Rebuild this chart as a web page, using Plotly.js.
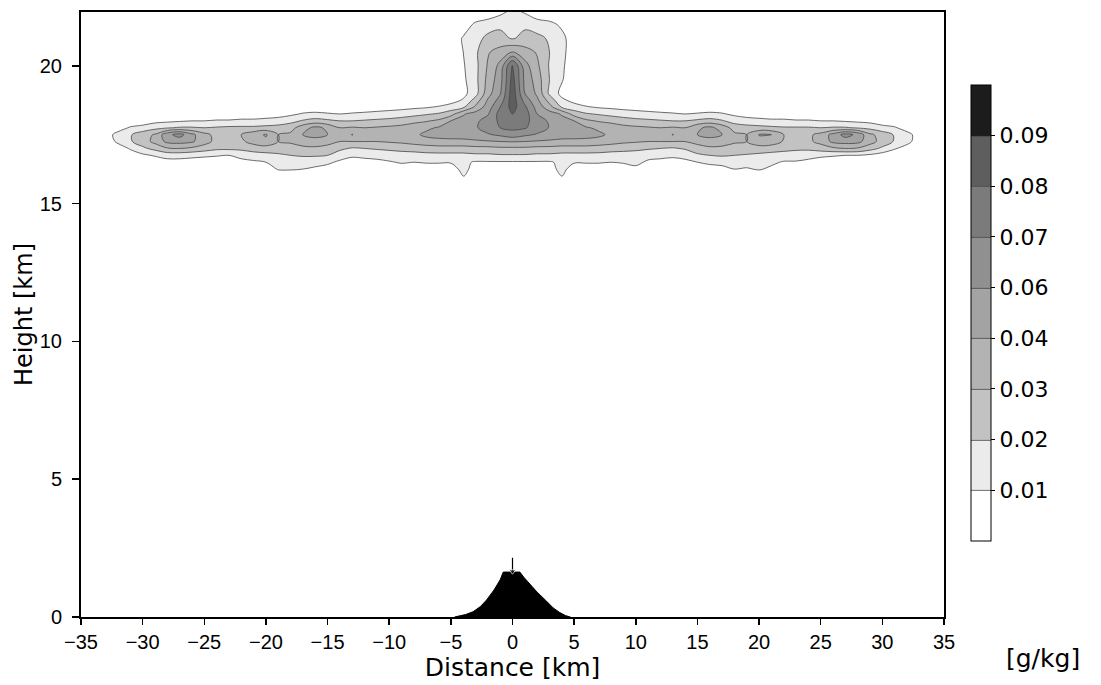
<!DOCTYPE html>
<html>
<head>
<meta charset="utf-8">
<script src="https://cdn.plot.ly/plotly-3.0.1.min.js"></script>
<style>html,body{margin:0;padding:0;background:#fff;}#chart{width:1101px;height:685px;}</style>
</head>
<body>
<div id="chart"></div>
<script>
// Horizontal distance of each model column [km]
const distanceKm = [-34,-33,-32,-31,-30,-29,-28,-27,-26,-25,-24,-23,-22,-21,-20,-19,-18,-17,-16,-15,-14,-13,-12,-11,-10,-9,-8,-7,-6,-5,-4,-3,-2,-1,0,1,2,3,4,5,6,7,8,9,10,11,12,13,14,15,16,17,18,19,20,21,22,23,24,25,26,27,28,29,30,31,32,33,34];
// Heights of the grid rows [km]
const heightKm = [15.75,16,16.25,16.5,16.75,17,17.25,17.5,17.75,18,18.25,18.5,18.75,19,19.5,20,20.5,21,21.5,22];
// Ash mixing ratio, one vertical profile per distance, in 0.001 g/kg
const ashProfiles = [
 [0,0,0,0,0,0,0,0,0,0,0,0,0,0,0,0,0,0,0,0],
 [0,0,0,0,0,0,4,6,2,0,0,0,0,0,0,0,0,0,0,0],
 [0,0,0,0,0,5,12,13,6,0,0,0,0,0,0,0,0,0,0,0],
 [0,0,0,0,5,11,19,19,11,4,0,0,0,0,0,0,0,0,0,0],
 [0,0,0,2,8,18,25,26,13,5,0,0,0,0,0,0,0,0,0,0],
 [0,0,0,4,11,23,33,31,17,7,0,0,0,0,0,0,0,0,0,0],
 [0,0,0,6,14,29,45,54,19,8,1,0,0,0,0,0,0,0,0,0],
 [0,0,0,6,14,30,47,64,21,9,2,0,0,0,0,0,0,0,0,0],
 [0,0,0,5,13,28,43,45,21,10,2,0,0,0,0,0,0,0,0,0],
 [0,0,0,4,12,25,34,33,20,10,3,0,0,0,0,0,0,0,0,0],
 [0,0,0,3,11,22,27,27,21,11,3,0,0,0,0,0,0,0,0,0],
 [0,0,0,3,10,22,27,28,22,11,3,0,0,0,0,0,0,0,0,0],
 [0,0,0,6,14,22,28,30,22,12,4,0,0,0,0,0,0,0,0,0],
 [0,0,2,8,16,24,34,36,22,12,4,0,0,0,0,0,0,0,0,0],
 [0,0,4,10,17,25,38,42,23,13,5,0,0,0,0,0,0,0,0,0],
 [0,2,11,14,18,26,30,30,24,14,6,0,0,0,0,0,0,0,0,0],
 [0,3,11,15,20,27,31,32,26,17,8,2,0,0,0,0,0,0,0,0],
 [0,2,10,15,21,28,34,41,36,21,11,3,0,0,0,0,0,0,0,0],
 [0,0,8,14,21,28,36,46,45,24,12,4,0,0,0,0,0,0,0,0],
 [0,0,6,12,20,27,33,40,38,22,11,3,0,0,0,0,0,0,0,0],
 [0,0,3,8,15,22,30,33,30,20,10,3,0,0,0,0,0,0,0,0],
 [0,0,2,5,12,19,30,41,31,20,11,4,0,0,0,0,0,0,0,0],
 [0,0,2,6,13,20,30,33,30,21,12,4,0,0,0,0,0,0,0,0],
 [0,0,2,7,14,21,30,33,31,22,13,5,0,0,0,0,0,0,0,0],
 [0,0,3,9,15,22,31,34,32,23,14,6,0,0,0,0,0,0,0,0],
 [0,0,5,11,16,23,32,35,33,25,15,7,0,0,0,0,0,0,0,0],
 [0,0,4,10,16,24,34,38,36,27,17,8,1,0,0,0,0,0,0,0],
 [0,0,4,11,17,25,36,44,38,29,19,9,2,0,0,0,0,0,0,0],
 [0,0,4,11,17,26,37,47,42,32,21,11,3,0,0,0,0,0,0,0],
 [0,0,4,11,17,26,37,49,47,40,26,14,6,2,0,1,2,3,0,0],
 [0,11,14,12,17,26,37,50,52,46,39,18,11,7,8,9,10,11,4,0],
 [0,3,5,9,18,27,38,54,58,56,48,32,24,16,17,17,18,17,12,0],
 [0,0,4,9,18,27,39,58,64,64,58,50,42,36,33,31,29,22,16,0],
 [0,0,4,9,19,28,40,62,70,72,74,70,64,58,52,46,34,23,18,6],
 [0,0,4,9,19,28,41,66,72,76,80,84,86,86,84,82,40,19,16,12],
 [0,0,4,9,19,28,40,62,71,73,75,72,66,60,55,48,34,23,18,8],
 [0,0,4,9,18,27,39,58,65,65,60,52,44,38,35,32,29,22,16,0],
 [0,3,5,9,18,27,38,55,59,57,49,34,26,18,20,19,20,19,13,0],
 [0,11,14,12,17,26,37,50,52,46,39,19,12,7,11,12,13,13,8,0],
 [0,0,4,11,17,26,37,49,47,40,26,14,7,2,2,3,4,4,0,0],
 [0,0,4,11,17,26,37,47,42,32,21,11,3,0,0,0,0,0,0,0],
 [0,0,4,11,17,25,36,44,38,29,19,9,2,0,0,0,0,0,0,0],
 [0,0,4,10,16,24,34,38,36,27,17,8,1,0,0,0,0,0,0,0],
 [0,0,5,11,16,23,32,35,33,25,15,7,0,0,0,0,0,0,0,0],
 [0,0,7,13,16,22,31,34,32,23,14,6,0,0,0,0,0,0,0,0],
 [0,0,2,8,14,21,30,33,31,22,13,5,0,0,0,0,0,0,0,0],
 [0,0,2,7,13,20,30,33,30,21,12,4,0,0,0,0,0,0,0,0],
 [0,0,2,6,12,19,30,41,31,20,11,4,0,0,0,0,0,0,0,0],
 [0,0,2,7,14,21,30,33,30,20,10,3,0,0,0,0,0,0,0,0],
 [0,0,4,10,18,26,33,40,38,22,11,3,0,0,0,0,0,0,0,0],
 [0,0,6,12,20,28,36,46,45,24,12,4,0,0,0,0,0,0,0,0],
 [0,0,7,13,21,28,34,40,36,21,11,3,0,0,0,0,0,0,0,0],
 [0,2,10,14,20,27,31,32,26,16,8,2,0,0,0,0,0,0,0,0],
 [0,2,9,14,19,26,30,30,24,14,6,0,0,0,0,0,0,0,0,0],
 [0,3,11,14,18,25,37,41,23,13,5,0,0,0,0,0,0,0,0,0],
 [0,2,8,12,17,24,36,40,22,12,4,0,0,0,0,0,0,0,0,0],
 [0,0,4,9,16,23,29,30,21,12,4,0,0,0,0,0,0,0,0,0],
 [0,0,3,9,15,22,27,28,21,11,3,0,0,0,0,0,0,0,0,0],
 [0,0,2,7,14,22,28,28,21,11,3,0,0,0,0,0,0,0,0,0],
 [0,0,0,5,12,25,33,33,20,10,3,0,0,0,0,0,0,0,0,0],
 [0,0,0,4,11,28,45,47,21,10,2,0,0,0,0,0,0,0,0,0],
 [0,0,0,3,10,30,48,64,21,9,2,0,0,0,0,0,0,0,0,0],
 [0,0,0,3,10,29,46,55,19,8,1,0,0,0,0,0,0,0,0,0],
 [0,0,0,2,8,24,34,32,17,7,0,0,0,0,0,0,0,0,0,0],
 [0,0,0,0,5,18,26,26,13,5,0,0,0,0,0,0,0,0,0,0],
 [0,0,0,0,3,11,19,19,11,4,0,0,0,0,0,0,0,0,0,0],
 [0,0,0,0,0,6,13,13,6,0,0,0,0,0,0,0,0,0,0,0],
 [0,0,0,0,0,0,5,6,2,0,0,0,0,0,0,0,0,0,0,0],
 [0,0,0,0,0,0,0,0,0,0,0,0,0,0,0,0,0,0,0,0]
];
// Contour levels [g/kg] and their colour-bar labels
const levelValues = [0.01,0.02,0.03,0.04,0.06,0.07,0.08,0.09];
const levelLabels = ['0.01','0.02','0.03','0.04','0.06','0.07','0.08','0.09'];
// Fill shades, from below the lowest level to above the highest
const bandColors = ['#ffffff','#ebebeb','#c2c2c2','#b3b3b3','#a3a3a3','#909090','#7b7b7b','#5e5e5e','#1c1c1c'];
// Terrain (volcano) profile
const terrainX = [-4.7,-4.3,-3.8,-3.2,-2.6,-2.1,-1.5,-1.0,-0.75,-0.3,0.3,0.6,0.9,1.4,2.0,2.7,3.3,3.8,4.3,4.7];
const terrainH = [0,0.04,0.09,0.19,0.38,0.62,0.98,1.35,1.63,1.63,1.63,1.63,1.45,1.2,0.9,0.6,0.33,0.17,0.05,0];
const ventX = [0,0];
const ventH = [2.15,1.66];

// map g/kg onto the (unevenly spaced) contour-level index so every band is one unit
function levelIndex(v){
  if (v <= levelValues[0]) return v / levelValues[0];
  for (let k = 1; k < levelValues.length; k++) {
    if (v <= levelValues[k]) return k + (v - levelValues[k-1]) / (levelValues[k] - levelValues[k-1]);
  }
  const n = levelValues.length;
  return n + (v - levelValues[n-1]) / (levelValues[n-1] - levelValues[n-2]);
}
const zIdx = ashProfiles.map(col => col.map(m => levelIndex(m / 1000)));
const colorscale = bandColors.map((c, i) => [i / (bandColors.length - 1), c]);

const font = 'DejaVu Sans, Verdana, sans-serif';
const tickFont = 'Liberation Sans, Arial, sans-serif';

const traces = [
  {
    type: 'contour', x: distanceKm, y: heightKm, z: zIdx, transpose: true,
    autocontour: false,
    contours: {start: 1, end: levelValues.length, size: 1, coloring: 'fill', showlines: true},
    line: {color: '#484848', width: 0.8, smoothing: 1},
    colorscale: colorscale, zmin: 0, zmax: 9,
    hoverinfo: 'skip',
    colorbar: {
      tickmode: 'array', tickvals: levelValues.map((v, i) => i + 1), ticktext: levelLabels,
      x: 1.031, xanchor: 'left', xpad: 0, ypad: 0,
      y: 0.5025, yanchor: 'middle', len: 0.754, lenmode: 'fraction',
      thickness: 20, thicknessmode: 'pixels',
      outlinecolor: '#000', outlinewidth: 1,
      ticks: 'outside', ticklen: 4, tickcolor: '#000', tickwidth: 1,
      tickfont: {family: font, size: 22, color: '#000'}
    }
  },
  {
    type: 'scatter', mode: 'lines', x: terrainX, y: terrainH,
    fill: 'toself', fillcolor: '#000', line: {color: '#000', width: 1},
    hoverinfo: 'skip', showlegend: false
  },
  {
    type: 'scatter', mode: 'lines+markers', x: ventX, y: ventH,
    line: {color: '#000', width: 1.2},
    marker: {symbol: 'triangle-down', size: [0, 6], color: '#000'},
    hoverinfo: 'skip', showlegend: false
  }
];

const layout = {
  width: 1101, height: 685,
  margin: {l: 81, r: 157, t: 12, b: 68},
  paper_bgcolor: '#fff', plot_bgcolor: '#fff',
  showlegend: false,
  font: {family: font, color: '#000'},
  xaxis: {
    range: [-35, 35], tickmode: 'linear', tick0: -35, dtick: 5,
    showgrid: false, zeroline: false,
    showline: true, linecolor: '#000', linewidth: 2, mirror: true,
    ticks: 'outside', ticklen: 6, tickwidth: 1.5, tickcolor: '#000',
    tickfont: {size: 20, family: tickFont},
    title: {text: 'Distance [km]', font: {size: 25, family: font}, standoff: 0}
  },
  yaxis: {
    range: [0, 21.95], tickmode: 'linear', tick0: 0, dtick: 5,
    showgrid: false, zeroline: false,
    showline: true, linecolor: '#000', linewidth: 2, mirror: true,
    ticks: 'outside', ticklen: 7, tickwidth: 1.5, tickcolor: '#000',
    ticklabelstandoff: 6,
    tickfont: {size: 20, family: tickFont},
    title: {text: 'Height [km]', font: {size: 24, family: font}, standoff: 0}
  },
  annotations: [{
    text: '[g/kg]', xref: 'paper', yref: 'paper', x: 1.1147, y: -0.068,
    xanchor: 'center', yanchor: 'middle', showarrow: false,
    font: {size: 25, family: font, color: '#000'}
  }]
};

Plotly.newPlot('chart', traces, layout, {displayModeBar: false, staticPlot: true});
</script>
</body>
</html>
